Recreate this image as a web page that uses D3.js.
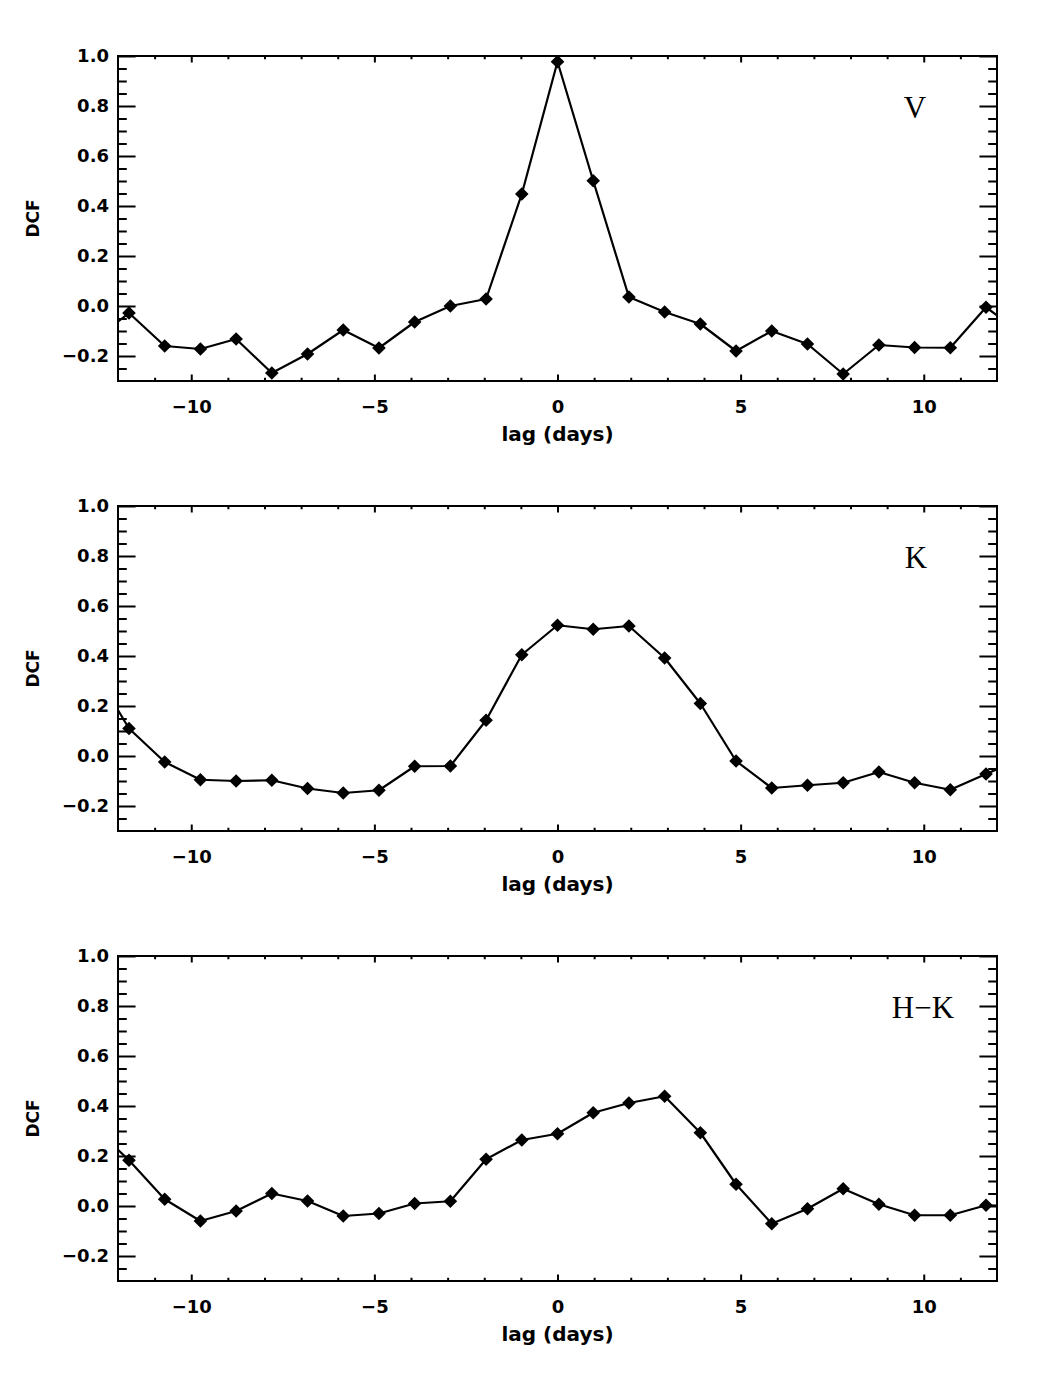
<!DOCTYPE html>
<html>
<head>
<meta charset="utf-8">
<script src="https://cdn.jsdelivr.net/npm/d3@7"></script>
<style>
  html, body { margin: 0; padding: 0; background: #fff; }
  svg { display: block; }
</style>
</head>
<body>
<svg id="chart" width="1044" height="1380"></svg>
<script>
// ---- data ----
const lags = [-12.675, -11.7, -10.725, -9.75, -8.775, -7.8, -6.825, -5.85, -4.875, -3.9, -2.925, -1.95, -0.975,
              0, 0.975, 1.95, 2.925, 3.9, 4.875, 5.85, 6.825, 7.8, 8.775, 9.75, 10.725, 11.7, 12.675];
const dcfV  = [-0.14, -0.028, -0.16, -0.172, -0.132, -0.268, -0.192, -0.096, -0.168, -0.064, 0.0, 0.028, 0.448,
               0.977, 0.501, 0.036, -0.024, -0.072, -0.18, -0.10, -0.152, -0.272, -0.156, -0.166, -0.167, -0.005, -0.11];
const dcfK  = [0.35, 0.11, -0.024, -0.095, -0.1, -0.097, -0.13, -0.148, -0.137, -0.041, -0.04, 0.143, 0.405,
               0.523, 0.507, 0.52, 0.392, 0.21, -0.02, -0.128, -0.117, -0.107, -0.064, -0.107, -0.135, -0.072, -0.01];
const dcfHK = [0.32, 0.183, 0.027, -0.06, -0.02, 0.05, 0.02, -0.04, -0.03, 0.01, 0.019, 0.187, 0.264,
               0.289, 0.373, 0.412, 0.439, 0.293, 0.087, -0.071, -0.011, 0.069, 0.007, -0.037, -0.037, 0.003, 0.0];
const panelLabels = ["V", "K", "H\u2212K"];
const xMajorTicks = [-10, -5, 0, 5, 10];
const xMinorTicks = [-11, -9, -8, -7, -6, -4, -3, -2, -1, 1, 2, 3, 4, 6, 7, 8, 9, 11];
const yMajorTicks = [-0.2, 0.0, 0.2, 0.4, 0.6, 0.8, 1.0];
const yMinorTicks = [-0.25, -0.15, -0.1, -0.05, 0.05, 0.1, 0.15, 0.25, 0.3, 0.35, 0.45, 0.5, 0.55, 0.65, 0.7, 0.75, 0.85, 0.9, 0.95];
const xDomain = [-12, 12];
const yDomain = [-0.3, 1.0];
const xTitle = "lag (days)";
const yTitle = "DCF";

// ---- layout ----
const svg = d3.select("#chart");
const left = 118, right = 997;
const panelTops = [56, 506, 956];
const panelH = 325;
const series = [dcfV, dcfK, dcfHK];
const labelPos = [{x: 915, y: 118}, {x: 916, y: 568}, {x: 923, y: 1018}];
const sansFont = "'DejaVu Sans', Verdana, sans-serif";

const fmtX = d => (d < 0 ? "\u2212" + Math.abs(d) : String(d));
const fmtY = d => {
  const s = Math.abs(d).toFixed(1);
  return d < -1e-9 ? "\u2212" + s : s;
};

const x = d3.scaleLinear().domain(xDomain).range([left, right]);
const W = right - left;
const yTickLen = 0.02 * W;
const xTickLen = 0.02 * panelH;

series.forEach((vals, i) => {
  const top = panelTops[i], bottom = top + panelH;
  const y = d3.scaleLinear().domain(yDomain).range([bottom, top]);
  const g = svg.append("g");

  const clipId = "clip" + i;
  svg.append("clipPath").attr("id", clipId)
    .append("rect").attr("x", left).attr("y", top).attr("width", W).attr("height", panelH);

  const styleAxis = sel => {
    sel.select(".domain").remove();
    sel.selectAll(".tick line").attr("stroke", "#000").attr("stroke-width", 2);
    sel.selectAll(".tick text")
      .attr("fill", "#000")
      .style("font-family", sansFont)
      .style("font-weight", "bold")
      .style("font-size", "18px");
  };

  // bottom axis (labels)
  g.append("g").attr("transform", `translate(0,${bottom})`)
    .call(d3.axisBottom(x).tickValues(xMajorTicks).tickSize(-xTickLen).tickPadding(19).tickFormat(fmtX))
    .call(styleAxis);
  g.append("g").attr("transform", `translate(0,${bottom})`)
    .call(d3.axisBottom(x).tickValues(xMinorTicks).tickSize(-xTickLen / 2).tickFormat(""))
    .call(styleAxis);
  // top axis (no labels)
  g.append("g").attr("transform", `translate(0,${top})`)
    .call(d3.axisTop(x).tickValues(xMajorTicks).tickSize(-xTickLen).tickFormat(""))
    .call(styleAxis);
  g.append("g").attr("transform", `translate(0,${top})`)
    .call(d3.axisTop(x).tickValues(xMinorTicks).tickSize(-xTickLen / 2).tickFormat(""))
    .call(styleAxis);
  // left axis
  g.append("g").attr("transform", `translate(${left},0)`)
    .call(d3.axisLeft(y).tickValues(yMajorTicks).tickSize(-yTickLen).tickPadding(9).tickFormat(fmtY))
    .call(styleAxis);
  g.append("g").attr("transform", `translate(${left},0)`)
    .call(d3.axisLeft(y).tickValues(yMinorTicks).tickSize(-yTickLen / 2).tickFormat(""))
    .call(styleAxis);
  // right axis
  g.append("g").attr("transform", `translate(${right},0)`)
    .call(d3.axisRight(y).tickValues(yMajorTicks).tickSize(-yTickLen).tickFormat(""))
    .call(styleAxis);
  g.append("g").attr("transform", `translate(${right},0)`)
    .call(d3.axisRight(y).tickValues(yMinorTicks).tickSize(-yTickLen / 2).tickFormat(""))
    .call(styleAxis);

  // frame
  g.append("rect").attr("x", left).attr("y", top).attr("width", W).attr("height", panelH)
    .attr("fill", "none").attr("stroke", "#000").attr("stroke-width", 2);

  const pts = lags.map((l, j) => [l, vals[j]]);
  const plot = g.append("g").attr("clip-path", `url(#${clipId})`);
  plot.append("path")
    .datum(pts)
    .attr("fill", "none").attr("stroke", "#000").attr("stroke-width", 2.2).attr("stroke-linejoin", "round")
    .attr("d", d3.line().x(d => x(d[0])).y(d => y(d[1])));
  plot.selectAll("path.m").data(pts).join("path").attr("class", "m")
    .attr("d", "M0,-6.8L6.8,0L0,6.8L-6.8,0Z")
    .attr("fill", "#000")
    .attr("transform", d => `translate(${x(d[0])},${y(d[1])})`);

  // x title
  g.append("text").attr("x", (left + right) / 2).attr("y", bottom + 60)
    .attr("text-anchor", "middle")
    .style("font-family", sansFont)
    .style("font-weight", "bold").style("font-size", "20px")
    .text(xTitle);
  // y title
  g.append("text")
    .attr("transform", `translate(39,${(top + bottom) / 2}) rotate(-90)`)
    .attr("text-anchor", "middle")
    .style("font-family", sansFont)
    .style("font-weight", "bold").style("font-size", "17px")
    .text(yTitle);
  // panel label
  g.append("text").attr("x", labelPos[i].x).attr("y", labelPos[i].y)
    .attr("text-anchor", "middle")
    .style("font-family", "'Liberation Serif', 'Times New Roman', serif")
    .style("font-size", "31px")
    .text(panelLabels[i]);
});
</script>
</body>
</html>
